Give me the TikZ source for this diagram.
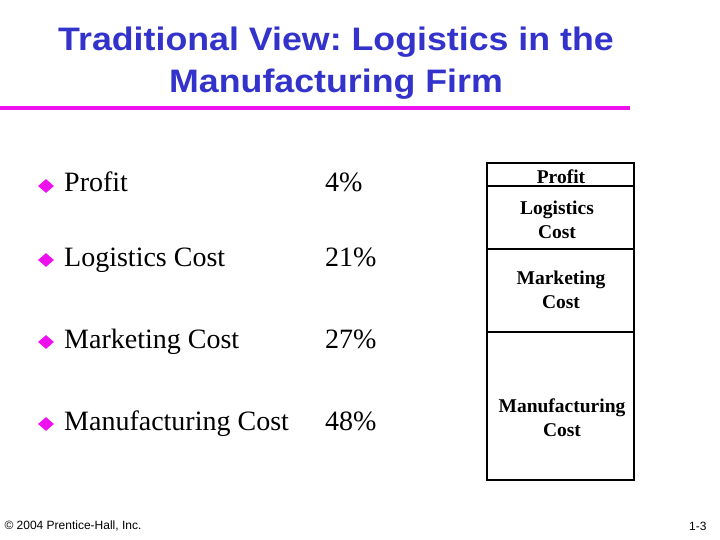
\documentclass[tikz,border=0pt]{standalone}
\usepackage{fontspec}
\setmainfont{Liberation Serif}
\newfontfamily\titlefont{Liberation Sans}
\usetikzlibrary{shapes.geometric}
\frenchspacing
\definecolor{titleblue}{RGB}{51,51,204}
\definecolor{barmagenta}{RGB}{238,17,238}
\tikzset{titleline/.style={anchor=base,inner sep=0pt,text=titleblue,font=\titlefont\fontsize{32.5}{40}\selectfont\bfseries},
  rowtext/.style={anchor=base west,inner sep=0pt,font=\fontsize{28}{32}\selectfont}}
\newcommand{\cell}[4]{ \draw[line width=2pt] ( #1 , #2 ) rectangle ( #3 , #4 );}
\newcommand{\bulletrow}[4]{\node[shape=diamond,fill=barmagenta,inner sep=0pt,minimum width=16pt,minimum height=14pt] (d#1) at (46, #2-6 ) {};
  \node[rowtext] (t#1) at (64, #2 ) {#3};
  \node[rowtext] (p#1) at (325, #2 ) {#4};}
\newcommand{\boxlabel}[4]{\node[align=center,font=\fontsize{19.5}{24}\selectfont\bfseries] (#1) at ( #2 , #3 ) {#4};}

\begin{document}
\begin{tikzpicture}[x=1pt,y=-1pt]
            \useasboundingbox (0,0) rectangle (720,540);
            % title
            \node[titleline] (title1) at (336,51) {\scalebox{1.1}[1]{Traditional View: Logistics in the}};
            \node[titleline] (title2) at (336,93) {\scalebox{1.1}[1]{Manufacturing Firm}};
            \draw[barmagenta,line width=4.5pt] (0,108) -- (630,108);

            % bullets
            \bulletrow{1}{192}{Profit}{4\%}
            \bulletrow{2}{266}{Logistics Cost}{21\%}
            \bulletrow{3}{348}{Marketing Cost}{27\%}
            \bulletrow{4}{430}{Manufacturing Cost}{48\%}

            % stacked box
            \cell{487}{163}{634}{186}
            \cell{487}{186}{634}{249}
            \cell{487}{249}{634}{332}
            \cell{487}{332}{634}{480}
            \boxlabel{bprofit}{561}{177}{Profit}
            \boxlabel{blog}{557}{220}{Logistics\\Cost}
            \boxlabel{bmark}{561}{290}{Marketing\\Cost}
            \boxlabel{bmanu}{562}{418}{Manufacturing\\Cost}

            % footer
            \node[anchor=west,font=\titlefont\fontsize{12}{14}\selectfont] (copy) at (1,526) {© 2004 Prentice-Hall, Inc.};
            \node[anchor=east,font=\titlefont\fontsize{12}{14}\selectfont] (page) at (710,526) {1-3};
        \end{tikzpicture}
\end{document}
